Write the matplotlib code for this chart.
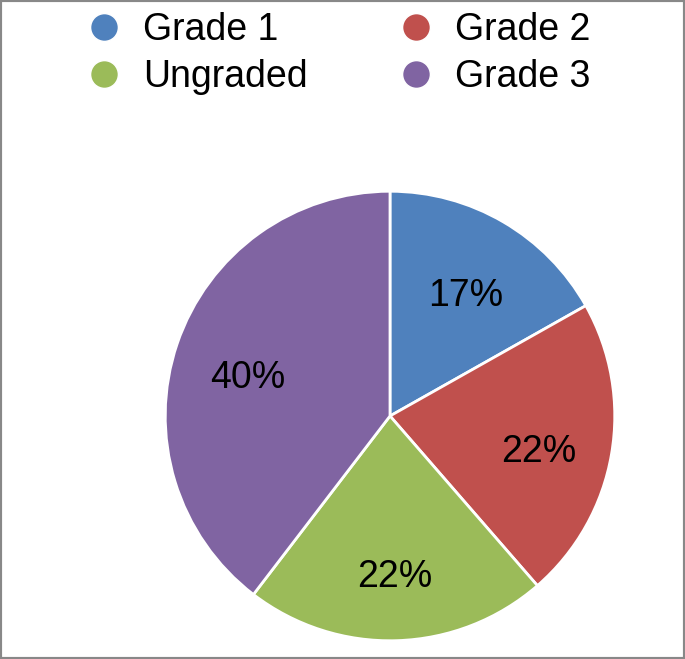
import matplotlib.pyplot as plt
from matplotlib.lines import Line2D
from matplotlib.patches import Rectangle

# Data
labels = ['Grade 1', 'Grade 2', 'Ungraded', 'Grade 3']
shares = [17, 22, 22, 40]
colors = ['#4F81BD', '#C0504D', '#9BBB59', '#8064A2']

plt.rcParams['font.family'] = ['Liberation Sans', 'DejaVu Sans']

fig = plt.figure(figsize=(6.85, 6.59), dpi=100)

# Pie axes, square box in pixels
ax = fig.add_axes([163 / 685, 16 / 659, 454 / 685, 454 / 659])
wedges, texts, autotexts = ax.pie(
    shares, colors=colors, startangle=90, counterclock=False,
    autopct='%1.0f%%', pctdistance=0.67,
    wedgeprops=dict(edgecolor='white', linewidth=2),
    textprops=dict(fontsize=27, color='black'))
# labels sit a little lower in the original
for t in autotexts:
    x, y = t.get_position()
    t.set_position((x, y - 0.045))
ax.set_xlim(-1.01, 1.01)
ax.set_ylim(-1.01, 1.01)
ax.axis('off')

# Legend (two columns, row-wise order)
order = [0, 2, 1, 3]
handles = [Line2D([], [], marker='o', linestyle='none', markersize=20,
                  markerfacecolor=colors[i], markeredgecolor='white')
           for i in order]
fig.legend(handles, [labels[i] for i in order], ncol=2, frameon=False,
           loc='upper left', bbox_to_anchor=(85 / 685, 1 - 12 / 659),
           fontsize=27, handlelength=1.0, handletextpad=0.55,
           columnspacing=2.38, labelspacing=0.3, borderpad=0,
           borderaxespad=0)

# Gray frame around the figure
fig.patches.append(Rectangle((0, 0), 1, 1, transform=fig.transFigure,
                             fill=False, edgecolor='#888888', linewidth=3))

fig.savefig('out.png', dpi=100)
